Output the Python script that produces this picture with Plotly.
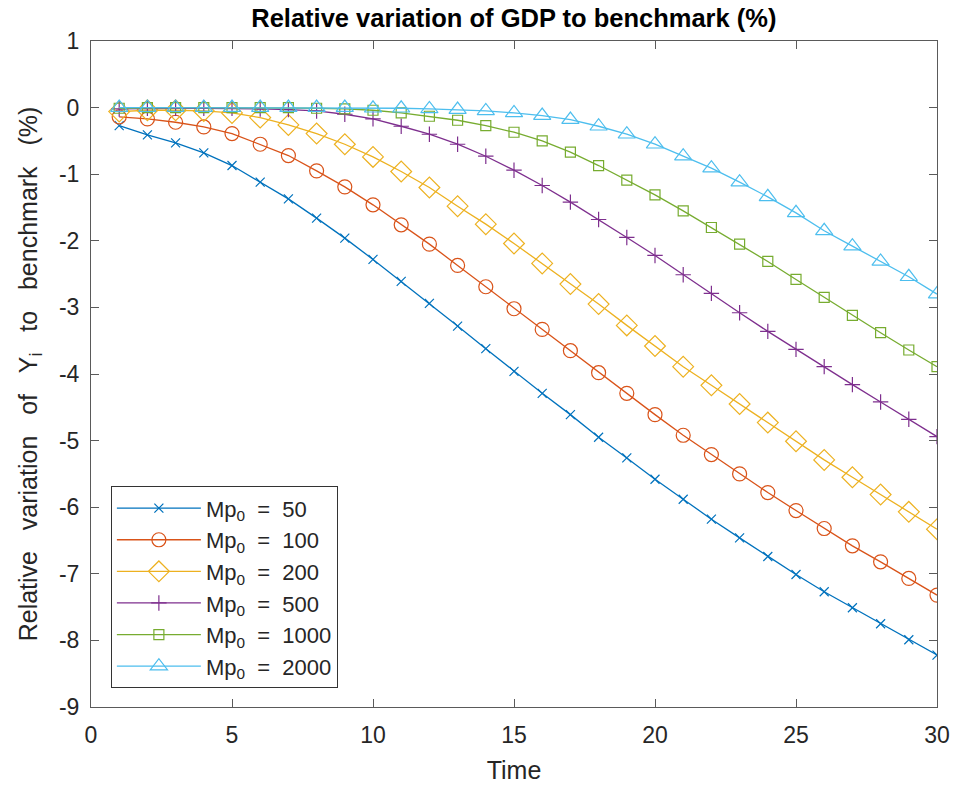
import plotly.graph_objects as go

time = list(range(1, 31))

mp50 = [-0.27, -0.41, -0.53, -0.68, -0.87, -1.12, -1.37, -1.66, -1.96, -2.28,
        -2.61, -2.94, -3.28, -3.62, -3.96, -4.29, -4.61, -4.95, -5.26, -5.58,
        -5.88, -6.18, -6.46, -6.74, -7.01, -7.27, -7.51, -7.75, -7.99, -8.22]
mp100 = [-0.14, -0.17, -0.22, -0.29, -0.39, -0.55, -0.72, -0.95, -1.19, -1.46,
         -1.76, -2.05, -2.37, -2.69, -3.02, -3.33, -3.65, -3.98, -4.29, -4.61,
         -4.92, -5.21, -5.50, -5.78, -6.05, -6.32, -6.58, -6.82, -7.07, -7.32]
mp200 = [-0.06, -0.04, -0.04, -0.05, -0.08, -0.15, -0.26, -0.39, -0.55, -0.74,
         -0.96, -1.20, -1.48, -1.75, -2.04, -2.34, -2.65, -2.95, -3.27, -3.58,
         -3.89, -4.17, -4.45, -4.73, -5.01, -5.29, -5.55, -5.81, -6.07, -6.33]
mp500 = [-0.02, -0.01, -0.01, -0.01, -0.01, -0.02, -0.03, -0.05, -0.10, -0.17,
         -0.28, -0.40, -0.55, -0.73, -0.94, -1.17, -1.42, -1.68, -1.95, -2.22,
         -2.51, -2.79, -3.08, -3.36, -3.63, -3.89, -4.16, -4.42, -4.68, -4.94]
mp1000 = [-0.01, 0.0, 0.0, 0.0, 0.0, 0.0, 0.0, -0.01, -0.02, -0.04,
          -0.08, -0.13, -0.19, -0.27, -0.37, -0.50, -0.67, -0.87, -1.09, -1.31,
          -1.55, -1.80, -2.05, -2.31, -2.58, -2.85, -3.12, -3.38, -3.64, -3.89]
mp2000 = [0.0, 0.0, 0.0, 0.0, 0.0, 0.0, 0.0, 0.0, 0.0, -0.01,
          -0.01, -0.02, -0.03, -0.05, -0.08, -0.12, -0.18, -0.28, -0.40, -0.55,
          -0.73, -0.91, -1.12, -1.34, -1.58, -1.85, -2.08, -2.31, -2.54, -2.80]

series_names = ["Mp<sub>0</sub>\u00a0\u00a0=\u00a0\u00a050",
                "Mp<sub>0</sub>\u00a0\u00a0=\u00a0\u00a0100",
                "Mp<sub>0</sub>\u00a0\u00a0=\u00a0\u00a0200",
                "Mp<sub>0</sub>\u00a0\u00a0=\u00a0\u00a0500",
                "Mp<sub>0</sub>\u00a0\u00a0=\u00a0\u00a01000",
                "Mp<sub>0</sub>\u00a0\u00a0=\u00a0\u00a02000"]
series_values = [mp50, mp100, mp200, mp500, mp1000, mp2000]

ytick_vals = [1, 0, -1, -2, -3, -4, -5, -6, -7, -8, -9]
ytick_text = ["1", "0", "-1", "-2", "-3", "-4", "-5", "-6", "-7", "-8", "-9"]
xtick_vals = [0, 5, 10, 15, 20, 25, 30]
xtick_text = ["0", "5", "10", "15", "20", "25", "30"]

colors = ["#0072BD", "#D95319", "#EDB120", "#7E2F8E", "#77AC30", "#4DBEEE"]
symbols = ["x-thin-open", "circle-open", "diamond-open", "cross-thin-open",
           "square-open", "triangle-up-open"]
sizes = [9, 14, 16, 11, 10, 15]

fig = go.Figure()
for name, vals, c, s, sz in zip(series_names, series_values, colors, symbols, sizes):
    fig.add_trace(go.Scatter(
        x=time, y=vals, name=name, mode="lines+markers",
        line=dict(color=c, width=1.3),
        marker=dict(symbol=s, size=sz, color=c, line=dict(color=c, width=1.2)),
    ))

axis_color = "#5a5a5a"
text_color = "#262626"
sp = "\u00a0\u00a0\u00a0"
fig.update_layout(
    width=956, height=789,
    margin=dict(l=91, r=19, t=41, b=82),
    paper_bgcolor="white", plot_bgcolor="white",
    font=dict(family="Liberation Sans, Arial, sans-serif", size=23, color=text_color),
    title=dict(text="<b>Relative variation of GDP to benchmark (%)</b>",
               x=0.5375, xanchor="center", y=0.977, yanchor="middle",
               font=dict(size=25.5, color="#000000")),
    legend=dict(x=0.0235, y=0.028, xanchor="left", yanchor="bottom",
                bgcolor="white", bordercolor="#333333", borderwidth=1,
                font=dict(size=22, color=text_color),
                itemwidth=84, tracegroupgap=0),
    showlegend=True,
)
fig.update_xaxes(
    range=[0, 30], tickvals=xtick_vals, ticktext=xtick_text, automargin=False,
    showgrid=False, zeroline=False, showline=True, linecolor=axis_color,
    linewidth=1, mirror="ticks", ticks="inside", ticklen=8, tickcolor=axis_color,
    tickfont=dict(size=23, color=text_color), ticklabelstandoff=7,
    title=dict(text="Time", font=dict(size=25, color=text_color), standoff=14),
)
fig.update_yaxes(
    range=[-9, 1], tickvals=ytick_vals, ticktext=ytick_text, automargin=False,
    showgrid=False, zeroline=False, showline=True, linecolor=axis_color,
    linewidth=1, mirror="ticks", ticks="inside", ticklen=8, tickcolor=axis_color,
    tickfont=dict(size=23, color=text_color), ticklabelstandoff=6,
    title=dict(text="Relative" + sp + "variation" + sp + "of" + sp + "Y<sub>i</sub>" + sp
               + "to" + sp + "benchmark" + sp + "(%)",
               font=dict(size=25, color=text_color), standoff=14),
)

fig.write_html("out.html")
